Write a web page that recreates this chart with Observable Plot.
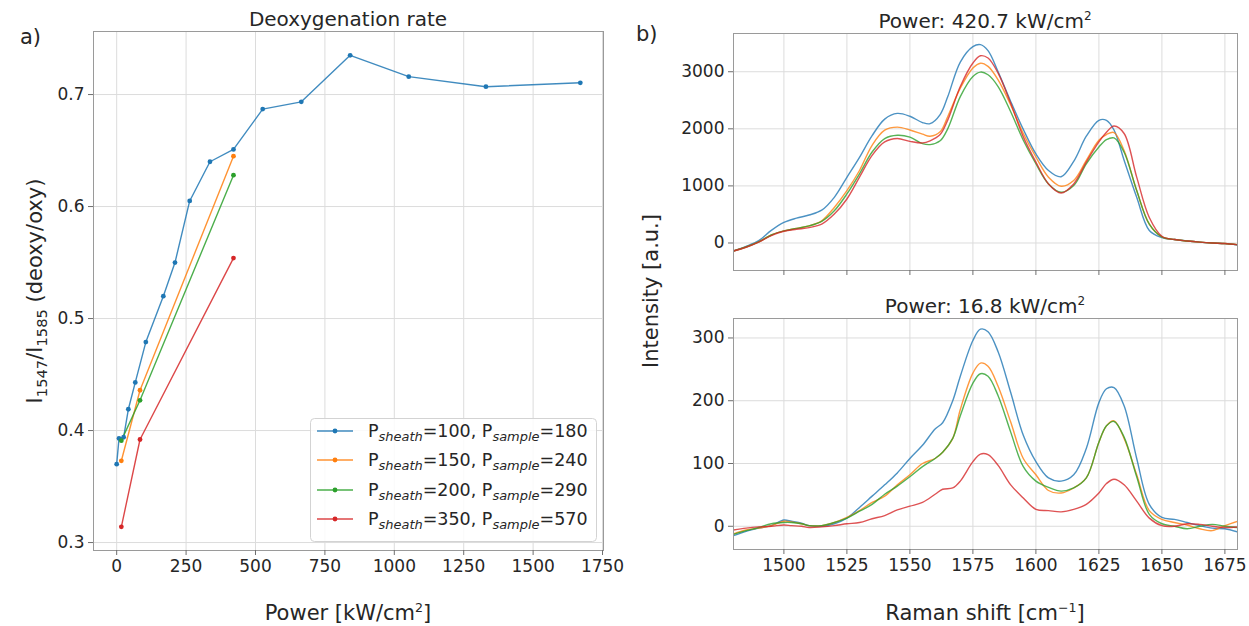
<!DOCTYPE html>
<html><head><meta charset="utf-8">
<script src="https://cdn.jsdelivr.net/npm/d3@7"></script>
<script src="https://cdn.jsdelivr.net/npm/@observablehq/plot@0.6"></script>
<style>
body{margin:0;background:#fff;}
#fig{position:relative;width:1249px;height:626px;overflow:hidden;background:#fff}
#fig svg{position:absolute;left:0;top:0}
</style></head><body><div id="fig"></div><script>
// ---------- data: panel a ----------
const colors = ["#1f77b4", "#ff7f0e", "#2ca02c", "#d62728"];
const sheath = [100, 150, 200, 350];
const sample = [180, 240, 290, 570];

const power100 = [0, 8.4, 25, 42, 67, 105, 168, 210, 263, 336, 420.7, 526, 665, 841, 1052, 1330, 1670];
const ratio100 = [0.370, 0.393, 0.394, 0.419, 0.443, 0.479, 0.520, 0.550, 0.605, 0.640, 0.651, 0.687, 0.6935, 0.735, 0.716, 0.707, 0.7105];
const power150 = [16.8, 84, 420.7];
const ratio150 = [0.373, 0.436, 0.645];
const power200 = [16.8, 84, 420.7];
const ratio200 = [0.391, 0.427, 0.628];
const power350 = [16.8, 84, 420.7];
const ratio350 = [0.314, 0.392, 0.554];

const xTicksA = [0, 250, 500, 750, 1000, 1250, 1500, 1750];
const yTicksA = [0.3, 0.4, 0.5, 0.6, 0.7];

// ---------- data: panel b (top, 420.7 kW/cm2) ----------
const shiftTop = [1480,1485,1490,1495,1500,1505,1510,1515,1520,1525,1530,1535,1540,1545,1550,1555,1558,1562,1565,1570,1575,1578,1581,1585,1590,1595,1600,1605,1610,1615,1620,1625,1628,1631,1635,1640,1645,1650,1655,1660,1665,1670,1675,1680];
const top100 = [-140,-60,40,220,360,435,490,575,800,1150,1500,1880,2170,2270,2220,2110,2090,2250,2560,3170,3440,3475,3370,3000,2480,1990,1560,1270,1160,1430,1870,2150,2150,1980,1450,800,220,95,60,35,15,0,-12,-35];
const top150 = [-140,-70,20,140,212,255,300,388,623,918,1270,1712,1976,2030,1980,1906,1870,1947,2212,2712,3065,3150,3094,2859,2418,1918,1506,1153,994,1094,1447,1800,1900,1935,1620,918,330,106,60,35,15,0,-10,-30];
const top200 = [-140,-70,20,140,212,255,300,380,565,859,1212,1594,1829,1888,1855,1741,1724,1790,2000,2565,2918,2994,2947,2741,2300,1800,1388,1035,888,1006,1388,1682,1810,1840,1590,918,330,106,60,35,15,0,-10,-30];
const top350 = [-140,-75,15,130,205,240,270,330,506,771,1153,1535,1770,1830,1780,1753,1790,1900,2153,2741,3153,3280,3240,2976,2447,1859,1418,1035,876,1035,1418,1770,1940,2050,1918,1153,447,118,60,35,15,0,-10,-30];

// ---------- data: panel b (bottom, 16.8 kW/cm2) ----------
const shiftBot = [1480,1485,1490,1495,1500,1503,1507,1510,1515,1520,1525,1530,1535,1540,1545,1550,1555,1560,1563,1567,1570,1575,1578,1581,1585,1590,1595,1600,1605,1610,1615,1620,1625,1628,1631,1635,1640,1645,1650,1655,1660,1665,1670,1675,1680];
const bot100 = [-15,-8,-3,1,10,8,5,1,0,4,13,30,48,66,85,108,129,155,165,200,239,296,314,310,278,213,145,103,77,72,82,124,197,219,221,192,108,35,14,11,6,1,-3,-4,-9];
const bot150 = [-12,-6,-3,1,8,7,4,1,1,6,14,25,38,48,66,82,100,108,118,140,186,244,260,255,223,166,108,82,57,53,61,77,134,160,168,140,82,25,11,6,2,-4,-7,1,8];
const bot200 = [-13,-7,-2,4,6,6,4,1,1,6,13,24,35,51,64,79,95,108,118,140,176,228,243,239,208,150,95,72,62,56,61,77,134,160,167,142,79,19,4,0,-4,0,3,0,-2];
const bot350 = [-6,-3,-1,0,2,1,0,-2,-1,1,4,6,12,17,26,32,38,51,59,61,72,103,115,114,97,66,45,27,25,23,27,35,53,68,75,66,40,13,1,0,4,3,0,-2,-1];

const xTicksB = [1500, 1525, 1550, 1575, 1600, 1625, 1650, 1675];
const yTicksTop = [0, 1000, 2000, 3000];
const yTicksBot = [0, 100, 200, 300];

// ---------- build ----------
const W = 1249, H = 626;
const FONT = "DejaVu Sans";
const TXT = "#262626";
const GRID = "#dcdcdc";
const FRAME = "#9a9a9a";
const TICK = "#6e6e6e";
const fig = document.getElementById("fig");

const style = {fontFamily: FONT, fontSize: "17px", color: TXT, background: "transparent", overflow: "visible"};

const seriesA = [
  {power: power100, ratio: ratio100},
  {power: power150, ratio: ratio150},
  {power: power200, ratio: ratio200},
  {power: power350, ratio: ratio350}
].map((s, i) => s.power.map((p, j) => ({power: p, ratio: s.ratio[j], series: i})));

const plotA = Plot.plot({
  width: W, height: H, style,
  marginLeft: 93, marginRight: W - 603, marginTop: 31, marginBottom: H - 550,
  x: {domain: [-83.5, 1753.5]},
  y: {domain: [0.2929, 0.7563]},
  marks: [
    Plot.gridX(xTicksA, {stroke: GRID, strokeOpacity: 1}),
    Plot.gridY(yTicksA, {stroke: GRID, strokeOpacity: 1}),
    ...seriesA.map((rows, i) => Plot.line(rows, {x: "power", y: "ratio", stroke: colors[i], strokeWidth: 1.4, strokeOpacity: 0.85})),
    ...seriesA.map((rows, i) => Plot.dot(rows, {x: "power", y: "ratio", fill: colors[i], r: 2.4})),
    Plot.frame({stroke: FRAME}),
    Plot.axisX(xTicksA, {tickSize: 5, tickPadding: 4, stroke: TICK, fill: TXT, label: null, tickFormat: d => String(d)}),
    Plot.axisY(yTicksA, {tickSize: 5, tickPadding: 4, stroke: TICK, fill: TXT, label: null, tickFormat: d => d.toFixed(1)})
  ]
});
fig.appendChild(plotA);

function spectra(shift, arrs) {
  return arrs.map((a, i) => shift.map((s, j) => ({shift: s, intensity: a[j], series: i})));
}
const specTop = spectra(shiftTop, [top100, top150, top200, top350]);
const specBot = spectra(shiftBot, [bot100, bot150, bot200, bot350]);

const plotTop = Plot.plot({
  width: W, height: H, style,
  marginLeft: 733, marginRight: W - 1237, marginTop: 33, marginBottom: H - 270,
  x: {domain: [1480, 1680]},
  y: {domain: [-482, 3670]},
  marks: [
    Plot.gridX(xTicksB, {stroke: GRID, strokeOpacity: 1}),
    Plot.gridY(yTicksTop, {stroke: GRID, strokeOpacity: 1}),
    ...specTop.map((rows, i) => Plot.line(rows, {x: "shift", y: "intensity", stroke: colors[i], strokeWidth: 1.4, strokeOpacity: 0.8, curve: "catmull-rom", clip: true})),
    Plot.frame({stroke: FRAME}),
    Plot.axisX(xTicksB, {tickSize: 5, tickPadding: 4, stroke: TICK, fill: TXT, label: null, tickFormat: () => ""}),
    Plot.axisY(yTicksTop, {tickSize: 5, tickPadding: 4, stroke: TICK, fill: TXT, label: null, tickFormat: d => String(d)})
  ]
});
fig.appendChild(plotTop);

const plotBot = Plot.plot({
  width: W, height: H, style,
  marginLeft: 733, marginRight: W - 1237, marginTop: 318, marginBottom: H - 549,
  x: {domain: [1480, 1680]},
  y: {domain: [-37, 331]},
  marks: [
    Plot.gridX(xTicksB, {stroke: GRID, strokeOpacity: 1}),
    Plot.gridY(yTicksBot, {stroke: GRID, strokeOpacity: 1}),
    ...specBot.map((rows, i) => Plot.line(rows, {x: "shift", y: "intensity", stroke: colors[i], strokeWidth: 1.4, strokeOpacity: 0.8, curve: "catmull-rom", clip: true})),
    Plot.frame({stroke: FRAME}),
    Plot.axisX(xTicksB, {tickSize: 5, tickPadding: 4, stroke: TICK, fill: TXT, label: null, tickFormat: d => String(d)}),
    Plot.axisY(yTicksBot, {tickSize: 5, tickPadding: 4, stroke: TICK, fill: TXT, label: null, tickFormat: d => String(d)})
  ]
});
fig.appendChild(plotBot);

// ---------- overlay text & legend ----------
const svg = d3.create("svg").attr("width", W).attr("height", H)
  .style("font-family", FONT).style("fill", TXT).style("pointer-events", "none");

function rich(x, y, parts, size, anchor = "middle", rotate = false, subScale = 0.7) {
  const t = svg.append("text").attr("x", x).attr("y", y)
    .attr("font-size", size).attr("text-anchor", anchor).attr("fill", TXT);
  if (rotate) t.attr("transform", `rotate(-90,${x},${y})`);
  let shift = 0;
  for (const [s, kind] of parts) {
    const sp = t.append("tspan").text(s);
    let target = 0, fs = size;
    if (kind === "sup") { target = -0.4 * size; fs = 0.6 * size; }
    if (kind === "sub" || kind === "subi") { target = 0.22 * size; fs = subScale * size; }
    if (kind === "subi") sp.attr("font-style", "italic");
    sp.attr("font-size", fs);
    const dy = target - shift;
    if (dy !== 0) sp.attr("dy", dy);
    shift = target;
  }
  return t;
}

rich(20, 44, [["a)", "n"]], 21, "start");
rich(636, 41, [["b)", "n"]], 21, "start");
rich(348, 26, [["Deoxygenation rate", "n"]], 20);
rich(985, 28, [["Power: 420.7 kW/cm", "n"], ["2", "sup"]], 20);
rich(985, 313, [["Power: 16.8 kW/cm", "n"], ["2", "sup"]], 20);
rich(348, 620, [["Power [kW/cm", "n"], ["2", "sup"], ["]", "n"]], 21);
rich(985, 620, [["Raman shift [cm", "n"], ["\u22121", "sup"], ["]", "n"]], 21);
rich(42, 291, [["I", "n"], ["1547", "sub"], ["/I", "n"], ["1585", "sub"], [" (deoxy/oxy)", "n"]], 21, "middle", true);
rich(658, 291, [["Intensity [a.u.]", "n"]], 21, "middle", true);

// legend
const lg = svg.append("g");
lg.append("rect").attr("x", 310.5).attr("y", 418.5).attr("width", 286).attr("height", 123).attr("rx", 4)
  .attr("fill", "#fff").attr("fill-opacity", 0.85).attr("stroke", "#d3d3d3");
const rowY = [431, 460, 490, 519];
sheath.forEach((sh, i) => {
  const y = rowY[i];
  lg.append("line").attr("x1", 317).attr("x2", 353).attr("y1", y).attr("y2", y)
    .attr("stroke", colors[i]).attr("stroke-width", 1.4).attr("stroke-opacity", 0.85);
  lg.append("circle").attr("cx", 335).attr("cy", y).attr("r", 2.4).attr("fill", colors[i]);
  rich(368, y + 6, [["P", "n"], ["sheath", "subi"], [`=${sh}, P`, "n"], ["sample", "subi"], [`=${sample[i]}`, "n"]], 17.5, "start", false, 0.74);
});

fig.appendChild(svg.node());
</script></body></html>
